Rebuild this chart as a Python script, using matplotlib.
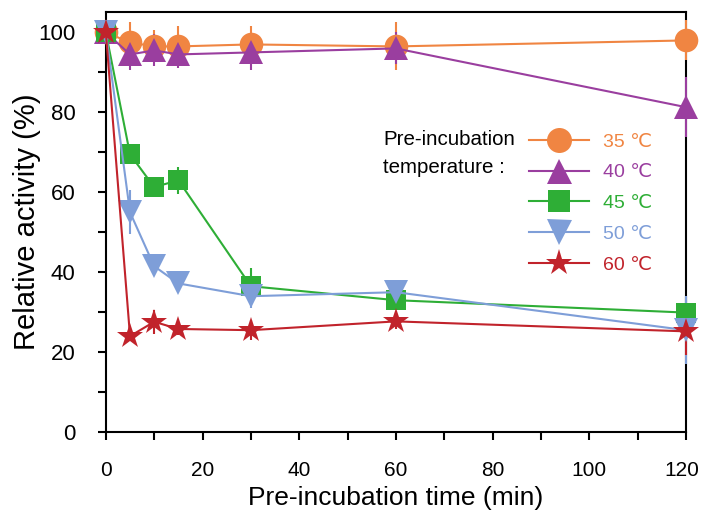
import matplotlib
matplotlib.use("Agg")
import matplotlib.pyplot as plt
from matplotlib.ticker import MultipleLocator, FuncFormatter
from matplotlib.lines import Line2D

plt.rcParams['font.family'] = ['Liberation Sans', 'DejaVu Sans']

time = [0, 5, 10, 15, 30, 60, 120]
labels = ["35 ℃", "40 ℃", "45 ℃", "50 ℃", "60 ℃"]
act_35 = [100, 97.5, 96.5, 96.5, 97, 96.5, 98]
err_35 = [2, 5, 4, 5, 4.5, 6, 5]
act_40 = [100, 94.5, 95.5, 94.5, 95, 96, 81.3]
err_40 = [2, 4, 4, 3.5, 4.5, 4, 7.5]
act_45 = [100, 69.5, 61.3, 63, 36.5, 33, 29.9]
err_45 = [1.5, 1, 2, 3.4, 4.5, 1, 4]
act_50 = [100, 55, 41.5, 37.2, 34, 35, 25.5]
err_50 = [1.5, 5.5, 1.5, 1, 3, 3, 8.5]
act_60 = [100, 24, 27.6, 25.8, 25.5, 27.7, 25.2]
err_60 = [1, 1, 3, 1.5, 2.5, 2, 6]

colors = ["#F08542", "#9A3E9F", "#2EAE36", "#7E9ED8", "#C1232B"]
markers = ["o", "^", "s", "v", "*"]
msizes = [17, 17, 15, 17, 19]
leg_msizes = [18, 18, 16, 18, 20]

X_MAX = 120

fig = plt.figure(figsize=(7.01, 5.15), dpi=100)
ax = fig.add_axes([0.151, 0.161, 0.8276, 0.8156])

series = [(act_35, err_35), (act_40, err_40), (act_45, err_45), (act_50, err_50), (act_60, err_60)]
for (y, e), c, m, ms, lab in zip(series, colors, markers, msizes, labels):
    ax.errorbar(time, y, yerr=e, color=c, ecolor=c, marker=m, markersize=ms,
                linewidth=1.5, elinewidth=1.5, capsize=5.5, capthick=1.5,
                markeredgewidth=0, label=lab, clip_on=False, zorder=3)

ax.set_xlim(0, X_MAX)
ax.set_ylim(0, 105.1)
ax.xaxis.set_major_locator(MultipleLocator(20))
ax.xaxis.set_minor_locator(MultipleLocator(10))
ax.yaxis.set_major_locator(MultipleLocator(20))
ax.yaxis.set_minor_locator(MultipleLocator(10))
# last x tick label is drawn separately, nudged left to stay inside the figure
ax.xaxis.set_major_formatter(FuncFormatter(lambda v, p: "" if v >= X_MAX else f"{v:.0f}"))
ax.tick_params(which='both', direction='out', width=1.5, length=6)
ax.tick_params(axis='x', labelsize=15, pad=15)
ax.tick_params(axis='y', labelsize=16, pad=16)
for s in ax.spines.values():
    s.set_linewidth(1.5)
ax.annotate(f"{X_MAX}", xy=(X_MAX, 0), xycoords=('data', 'axes fraction'),
            xytext=(-3, -21), textcoords='offset points', ha='center', va='top',
            fontsize=15, annotation_clip=False)

ax.set_xlabel("Pre-incubation time (min)", fontsize=19, labelpad=4)
ax.set_ylabel("Relative activity (%)", fontsize=21, labelpad=-2)

leg_handles = [Line2D([0], [0], color=c, marker=m, markersize=ms, markeredgewidth=0, linewidth=1.5)
               for c, m, ms in zip(colors, markers, leg_msizes)]
leg = ax.legend(leg_handles, labels, loc='upper left',
                bbox_to_anchor=(529 / 701, 1 - 133 / 515), bbox_transform=fig.transFigure,
                frameon=False, fontsize=14, handlelength=3.1, handletextpad=0.7,
                labelspacing=0.68, borderpad=0, borderaxespad=0)
for t, c in zip(leg.get_texts(), colors):
    t.set_color(c)

fig.text(383 / 701, 1 - 153.5 / 515, "Pre-incubation\ntemperature :", fontsize=14.8,
         ha='left', va='center', linespacing=1.6)

fig.savefig("out.png", dpi=100)
